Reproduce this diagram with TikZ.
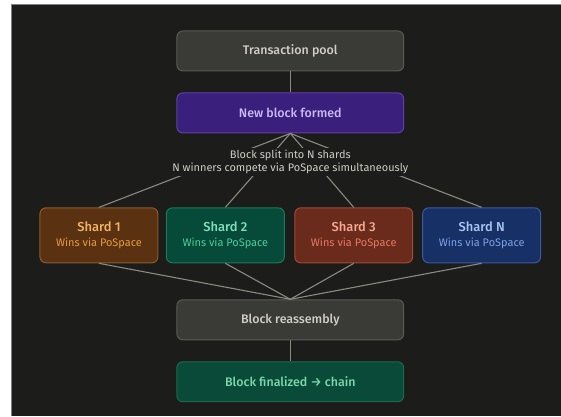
\documentclass[tikz,border=0pt]{standalone}
\usepackage{fontspec}
\setmainfont{Fira Sans}[BoldFont={* Medium}]
\usetikzlibrary{positioning}
\definecolor{bgdark}{HTML}{1C1C1A}
\definecolor{linegray}{HTML}{8A8A82}
\definecolor{poolfill}{HTML}{3A3A37}
\definecolor{pooldraw}{HTML}{5A5A55}
\definecolor{pooltext}{HTML}{CFCFC6}
\definecolor{newfill}{HTML}{3B1F7C}
\definecolor{newdraw}{HTML}{5C42A6}
\definecolor{newtext}{HTML}{CBBBF5}
\definecolor{onefill}{HTML}{5A3212}
\definecolor{onedraw}{HTML}{8C5A2A}
\definecolor{onetitle}{HTML}{F2B464}
\definecolor{onesub}{HTML}{E89A40}
\definecolor{twofill}{HTML}{064A3A}
\definecolor{twodraw}{HTML}{1A7A5A}
\definecolor{twotitle}{HTML}{80E0BA}
\definecolor{twosub}{HTML}{4CCF98}
\definecolor{threefill}{HTML}{6A2A1C}
\definecolor{threedraw}{HTML}{A04A38}
\definecolor{threetitle}{HTML}{F5AA92}
\definecolor{threesub}{HTML}{E87A60}
\definecolor{nfill}{HTML}{173066}
\definecolor{ndraw}{HTML}{3A5AA0}
\definecolor{ntitle}{HTML}{AAC6F5}
\definecolor{nsub}{HTML}{7CA2E8}
\definecolor{finfill}{HTML}{0A4A38}
\definecolor{findraw}{HTML}{1A6A50}
\definecolor{fintext}{HTML}{7AD8AB}

\begin{document}
\begin{tikzpicture}[x=1bp,y=-1bp,
  wbox/.style={draw,rounded corners=6bp,line width=1bp,minimum width=227bp,
    minimum height=40bp,font=\fontsize{12.5}{15}\selectfont\bfseries},
  sbox/.style={draw,rounded corners=6bp,line width=1bp,minimum width=118bp,
    minimum height=55bp,align=center},
  link/.style={draw=linegray,line width=1.1bp}]

  % page and dark background
  \fill[white] (0,0) rectangle (561,416);
  \fill[bgdark] (11,4) rectangle (561,416);
  \draw[gray,line width=0.8bp] (11,416) -- (11,4) -- (561,4);

  \node[wbox,fill=poolfill,draw=pooldraw,text=pooltext] (pool) at (290.5,51) {Transaction pool};
  \node[wbox,fill=newfill,draw=newdraw,text=newtext,below=21bp of pool] (newblk) {New block formed};

  \node[sbox,fill=onefill,draw=onedraw] (sh1) at (99,235.5)
    {{\fontsize{13}{15}\selectfont\bfseries\color{onetitle}Shard 1}\\[3bp]{\fontsize{11}{13}\selectfont\color{onesub}Wins via PoSpace}};
  \node[sbox,fill=twofill,draw=twodraw] (sh2) at (225.5,235.5)
    {{\fontsize{13}{15}\selectfont\bfseries\color{twotitle}Shard 2}\\[3bp]{\fontsize{11}{13}\selectfont\color{twosub}Wins via PoSpace}};
  \node[sbox,fill=threefill,draw=threedraw] (sh3) at (354,235.5)
    {{\fontsize{13}{15}\selectfont\bfseries\color{threetitle}Shard 3}\\[3bp]{\fontsize{11}{13}\selectfont\color{threesub}Wins via PoSpace}};
  \node[sbox,fill=nfill,draw=ndraw] (shn) at (482,235.5)
    {{\fontsize{13}{15}\selectfont\bfseries\color{ntitle}Shard N}\\[3bp]{\fontsize{11}{13}\selectfont\color{nsub}Wins via PoSpace}};

  \node[wbox,fill=poolfill,draw=pooldraw,text=pooltext] (reasm) at (290.5,320) {Block reassembly};
  \node[wbox,fill=finfill,draw=findraw,text=fintext,below=21bp of reasm] (final) {Block finalized → chain};

  % connectors
  \draw[link] (pool) -- (newblk);
  \foreach \s in {sh1,sh2,sh3,shn}
    \draw[link] (newblk.south) -- (\s.north);
  \foreach \s in {sh1,sh2,sh3,shn}
    \draw[link] (\s.south) -- (reasm.north);
  \draw[link] (reasm) -- (final);

  % label over the fan
  \node[fill=bgdark,text=pooltext,align=center,inner sep=1.5bp,
    font=\fontsize{11}{14}\selectfont] (split) at (290.5,162)
    {Block split into N shards\\N winners compete via PoSpace simultaneously};

\end{tikzpicture}
\end{document}
